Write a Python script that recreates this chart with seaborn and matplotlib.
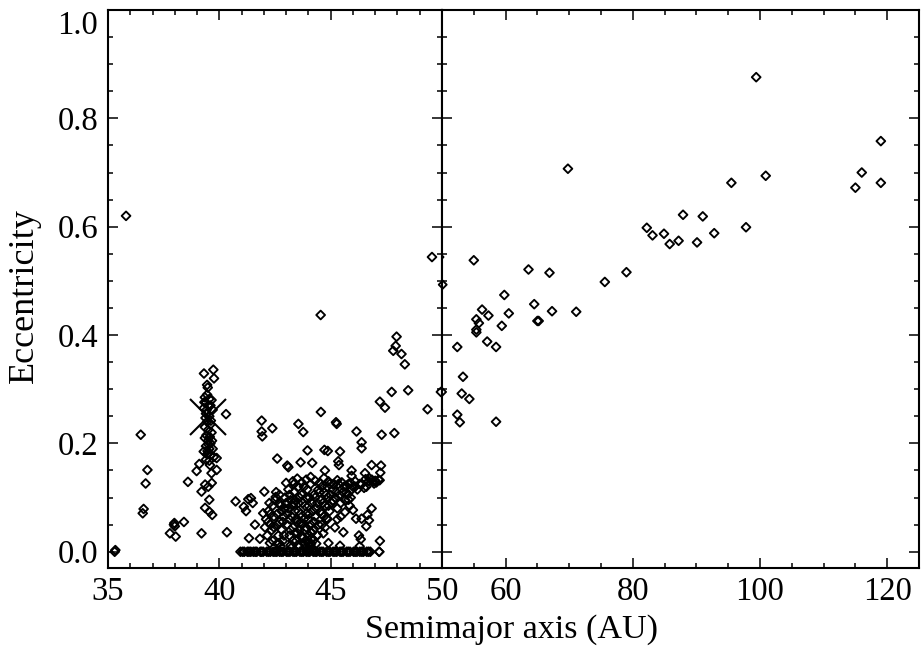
import numpy as np
import pandas as pd
import matplotlib
matplotlib.use("Agg")
import matplotlib.pyplot as plt
import seaborn as sns
from matplotlib.ticker import MultipleLocator, FixedLocator, FormatStrFormatter

sns.set_theme(style="ticks")
plt.rcParams['font.family'] = ['Liberation Serif', 'DejaVu Serif']
plt.rcParams['text.color'] = 'black'
plt.rcParams['axes.labelcolor'] = 'black'
plt.rcParams['xtick.color'] = 'black'
plt.rcParams['ytick.color'] = 'black'

# ---------------- data (semimajor axis in AU, eccentricity) ----------------
# scattered / isolated objects in the 35-50 AU panel
outer_a = [35.81, 35.30, 35.33, 36.47, 36.77, 36.69, 36.60, 36.56, 37.96, 38.00,
           37.98, 37.78, 38.04, 38.41, 38.59, 38.98, 39.10, 39.20, 40.34, 40.30,
           49.55, 44.55, 47.96, 47.92, 47.81, 48.18, 48.33, 47.74, 48.48, 47.21,
           47.44, 49.35, 49.95, 44.56, 45.24, 45.27, 43.55, 43.77, 41.90, 41.90,
           41.93, 42.38, 46.16, 47.29, 47.86, 46.39, 46.39, 43.96, 44.72, 44.87,
           45.42, 42.60, 43.05, 43.10, 43.65, 44.17, 44.74, 45.34, 45.37, 45.94,
           45.94, 46.84, 47.26, 47.23, 46.54, 46.57, 40.73, 41.10, 41.20, 41.30,
           41.50, 41.42, 41.60, 41.33, 41.82, 41.97, 42.02, 42.53, 44.82, 45.19,
           45.57, 46.00, 46.84, 46.14, 46.39, 46.65, 46.72, 46.60, 46.27, 46.35,
           46.30, 47.21, 47.18, 44.40, 44.67, 44.90, 45.42, 45.64, 45.80, 42.27,
           42.68]
outer_e = [0.620, 0.000, 0.003, 0.216, 0.151, 0.126, 0.079, 0.071, 0.050, 0.047,
           0.053, 0.034, 0.028, 0.055, 0.129, 0.149, 0.162, 0.034, 0.036, 0.254,
           0.544, 0.437, 0.397, 0.380, 0.371, 0.365, 0.346, 0.295, 0.298, 0.277,
           0.266, 0.263, 0.295, 0.258, 0.239, 0.236, 0.236, 0.221, 0.242, 0.222,
           0.213, 0.228, 0.222, 0.216, 0.219, 0.202, 0.191, 0.187, 0.188, 0.186,
           0.185, 0.172, 0.159, 0.156, 0.165, 0.164, 0.150, 0.167, 0.160, 0.150,
           0.140, 0.160, 0.159, 0.146, 0.145, 0.134, 0.093, 0.083, 0.075, 0.097,
           0.090, 0.099, 0.050, 0.025, 0.024, 0.071, 0.111, 0.101, 0.062, 0.045,
           0.036, 0.077, 0.080, 0.061, 0.061, 0.068, 0.058, 0.047, 0.030, 0.023,
           0.010, 0.020, 0.000, 0.031, 0.034, 0.016, 0.011, 0.073, 0.096, 0.016,
           0.016]

# objects in the 3:2 resonance column near 39.5 AU
plutino_a = [39.31, 39.73, 39.76, 39.45, 39.48, 39.35, 39.45, 39.55, 39.65, 39.40,
             39.50, 39.60, 39.30, 39.70, 39.40, 39.55, 39.45, 39.60, 39.35, 39.50,
             39.65, 39.35, 39.50, 39.60, 39.40, 39.55, 39.30, 39.45, 39.60, 39.70,
             39.40, 39.55, 39.75, 39.88, 39.88, 39.65, 39.36, 39.66, 39.20, 39.50,
             39.55, 39.36, 39.55, 39.68, 39.42, 39.58, 39.52, 39.38, 39.62, 39.47,
             39.33, 39.57, 39.43, 39.67, 39.51]
plutino_e = [0.329, 0.336, 0.320, 0.308, 0.303, 0.285, 0.290, 0.282, 0.280, 0.275,
             0.270, 0.270, 0.265, 0.262, 0.255, 0.250, 0.240, 0.235, 0.230, 0.225,
             0.220, 0.210, 0.205, 0.200, 0.195, 0.190, 0.185, 0.180, 0.178, 0.190,
             0.170, 0.168, 0.175, 0.173, 0.151, 0.145, 0.124, 0.127, 0.111, 0.120,
             0.096, 0.081, 0.074, 0.068, 0.215, 0.160, 0.198, 0.247, 0.242, 0.186,
             0.276, 0.212, 0.262, 0.205, 0.182]

# dense classical belt, 42-47 AU
classical_a = [42.10, 42.20, 42.30, 42.40, 42.45, 42.35, 42.15, 42.50, 42.60, 42.70,
               42.75, 42.80, 42.90, 42.95, 42.65, 42.85, 42.55, 43.05, 43.10, 43.15,
               43.20, 43.25, 43.30, 43.35, 43.40, 43.45, 43.50, 43.20, 43.40, 43.10,
               43.55, 43.60, 43.65, 43.70, 43.75, 43.80, 43.85, 43.90, 43.95, 43.60,
               43.80, 43.70, 44.00, 44.05, 44.10, 44.10, 44.15, 44.20, 44.20, 44.25,
               44.30, 44.35, 44.40, 44.45, 44.05, 44.55, 44.60, 44.70, 44.75, 44.85,
               44.90, 44.95, 44.60, 45.05, 45.10, 45.20, 45.30, 45.40, 45.45, 45.55,
               45.65, 45.75, 45.85, 45.95, 43.00, 43.30, 43.50, 43.70, 43.90, 44.10,
               44.30, 44.50, 44.70, 44.90, 45.10, 45.30, 45.50, 45.70, 45.90, 46.10,
               46.30, 46.50, 46.70, 46.85, 47.00, 47.15, 46.95, 43.25, 43.55, 43.85,
               44.15, 44.00, 44.12, 43.35, 42.90]
classical_e = [0.060, 0.075, 0.050, 0.085, 0.065, 0.040, 0.030, 0.095, 0.070, 0.055,
               0.085, 0.040, 0.065, 0.100, 0.030, 0.020, 0.110, 0.050, 0.080, 0.030,
               0.095, 0.065, 0.045, 0.110, 0.075, 0.020, 0.055, 0.012, 0.035, 0.115,
               0.090, 0.040, 0.070, 0.105, 0.025, 0.060, 0.085, 0.045, 0.115, 0.010,
               0.015, 0.050, 0.030, 0.070, 0.010, 0.050, 0.090, 0.020, 0.040, 0.105,
               0.065, 0.080, 0.030, 0.115, 0.005, 0.095, 0.070, 0.110, 0.085, 0.060,
               0.100, 0.075, 0.050, 0.090, 0.115, 0.100, 0.080, 0.105, 0.065, 0.110,
               0.095, 0.105, 0.085, 0.115, 0.127, 0.130, 0.135, 0.128, 0.133, 0.138,
               0.131, 0.127, 0.136, 0.130, 0.124, 0.132, 0.128, 0.122, 0.127, 0.120,
               0.125, 0.118, 0.130, 0.133, 0.131, 0.133, 0.126, 0.008, 0.012, 0.006,
               0.025, 0.015, 0.035, 0.090, 0.080]

# more members of the dense core
core_a = [42.05, 42.25, 42.40, 42.30, 42.20, 42.45, 42.60, 42.70, 42.80, 42.85,
          42.90, 42.60, 42.75, 42.95, 42.70, 43.00, 43.05, 43.15, 43.20, 43.30,
          43.30, 43.40, 43.45, 43.50, 43.35, 43.15, 43.55, 43.60, 43.65, 43.70,
          43.75, 43.80, 43.85, 43.90, 43.95, 43.55, 43.90, 44.00, 44.05, 44.10,
          44.15, 44.20, 44.25, 44.30, 44.35, 44.40, 44.45, 44.50, 44.00, 44.12,
          44.20, 44.55, 44.60, 44.65, 44.70, 44.80, 44.85, 44.90, 44.95, 44.75,
          45.00, 45.10, 45.15, 45.25, 45.35, 45.45, 45.30, 45.60, 45.70, 45.80,
          45.90, 46.00, 46.10, 46.20, 46.40, 46.60, 46.75, 46.90, 47.05, 47.20]
core_e = [0.045, 0.090, 0.020, 0.070, 0.055, 0.045, 0.050, 0.090, 0.075, 0.055,
          0.030, 0.015, 0.010, 0.080, 0.105, 0.090, 0.070, 0.060, 0.040, 0.085,
          0.020, 0.095, 0.060, 0.035, 0.125, 0.105, 0.075, 0.100, 0.055, 0.030,
          0.090, 0.120, 0.040, 0.070, 0.020, 0.120, 0.100, 0.060, 0.100, 0.125,
          0.035, 0.075, 0.055, 0.100, 0.015, 0.090, 0.050, 0.110, 0.085, 0.015,
          0.005, 0.075, 0.120, 0.090, 0.065, 0.105, 0.120, 0.085, 0.125, 0.045,
          0.105, 0.095, 0.125, 0.110, 0.125, 0.090, 0.060, 0.120, 0.110, 0.125,
          0.100, 0.120, 0.130, 0.115, 0.125, 0.120, 0.135, 0.130, 0.128, 0.132]

# objects with e = 0 (assumed circular orbits)
circular_a = [40.95, 41.12, 41.26, 41.41, 41.53, 41.68, 41.84, 41.97, 42.13, 42.29,
              42.42, 42.58, 42.71, 42.86, 43.02, 43.17, 43.31, 43.46, 43.62, 43.77,
              43.91, 44.06, 44.22, 44.37, 44.51, 44.66, 44.82, 44.97, 45.11, 45.27,
              45.42, 45.56, 45.72, 45.87, 46.03, 46.18, 46.31, 46.47, 46.62, 46.78,
              47.18, 41.05, 41.33, 41.61, 41.90, 42.21, 42.50, 42.79, 43.09, 43.39,
              43.70, 43.99, 44.30, 44.59, 44.90, 45.19, 45.49, 45.79, 46.10, 46.40,
              46.70]
circular_e = [0.0] * len(circular_a)

# distant objects (50-125 AU panel)
distant_a = [99.4, 119.0, 69.8, 100.9, 95.5, 116.0, 115.0, 119.0, 87.9, 91.0,
             82.2, 83.1, 84.9, 85.8, 87.2, 90.1, 92.8, 97.8, 55.0, 63.6,
             66.9, 79.0, 75.6, 50.05, 59.8, 64.5, 56.3, 60.5, 57.3, 67.3,
             71.1, 55.4, 55.8, 59.4, 65.0, 65.2, 55.4, 55.4, 57.1, 58.5,
             52.4, 53.3, 53.1, 54.3, 52.4, 52.8, 58.5]
distant_e = [0.876, 0.758, 0.707, 0.694, 0.681, 0.700, 0.672, 0.681, 0.622, 0.619,
             0.598, 0.584, 0.587, 0.568, 0.574, 0.571, 0.588, 0.599, 0.538, 0.521,
             0.515, 0.516, 0.498, 0.493, 0.474, 0.457, 0.447, 0.440, 0.436, 0.444,
             0.443, 0.429, 0.422, 0.417, 0.426, 0.426, 0.410, 0.405, 0.388, 0.378,
             0.378, 0.323, 0.292, 0.282, 0.253, 0.239, 0.240]

# Pluto
pluto_a = [39.5]
pluto_e = [0.248]

left_ticks = [35, 40, 45, 50]
right_ticks = [60, 80, 100, 120]
y_ticks = [0.0, 0.2, 0.4, 0.6, 0.8, 1.0]

df = pd.DataFrame({
    "a": outer_a + plutino_a + classical_a + core_a + circular_a + distant_a,
    "e": outer_e + plutino_e + classical_e + core_e + circular_e + distant_e,
})

# ---------------- figure ----------------
W, H = 922, 653
fig = plt.figure(figsize=(W / 100, H / 100), dpi=100)
x0, xm, x1 = 108, 442, 919
ytop, ybot = 10, 568
axL = fig.add_axes([x0 / W, 1 - ybot / H, (xm - x0) / W, (ybot - ytop) / H])
axR = fig.add_axes([xm / W, 1 - ybot / H, (x1 - xm) / W, (ybot - ytop) / H])

FS = 23.5
for ax in (axL, axR):
    sns.scatterplot(data=df, x="a", y="e", marker="D", s=20,
                    facecolor="none", edgecolor="black", linewidth=1.35,
                    ax=ax, legend=False, zorder=3)
    ax.set_ylim(-0.03, 1.0)
    ax.set_xlabel("")
    ax.set_ylabel("")
    ax.yaxis.set_major_locator(FixedLocator(y_ticks))
    ax.yaxis.set_minor_locator(MultipleLocator(0.05))
    ax.tick_params(which="both", direction="in", top=True, right=True,
                   width=1.1, color="black", labelsize=FS, labelcolor="black")
    ax.tick_params(which="major", length=7)
    ax.tick_params(which="minor", length=3.5)
    ax.tick_params(axis="x", pad=6)
    ax.tick_params(axis="y", pad=7)
    for sp in ax.spines.values():
        sp.set_linewidth(1.5)
        sp.set_color("black")
    ax.set_facecolor("white")

axL.plot(pluto_a, pluto_e, marker="x", ms=26, mew=1.5, color="black",
         linestyle="none", zorder=4)

axL.set_xlim(35, 50)
axL.xaxis.set_major_locator(FixedLocator(left_ticks))
axL.xaxis.set_minor_locator(MultipleLocator(1))
axL.yaxis.set_major_formatter(FormatStrFormatter("%.1f"))
axL.yaxis.get_major_ticks()[-1].label1.set_verticalalignment("top")

axR.set_xlim(50, 125)
axR.xaxis.set_major_locator(FixedLocator(right_ticks))
axR.xaxis.set_minor_locator(MultipleLocator(5))
axR.tick_params(axis="y", labelleft=False)

fig.text(511 / W, 1 - 630 / H, "Semimajor axis (AU)", ha="center", va="center",
         fontsize=24.5, color="black")
fig.text(24 / W, 0.547, "Eccentricity", ha="center", va="center",
         rotation=90, fontsize=26, color="black")

fig.savefig("out.png", dpi=100, facecolor="white")
